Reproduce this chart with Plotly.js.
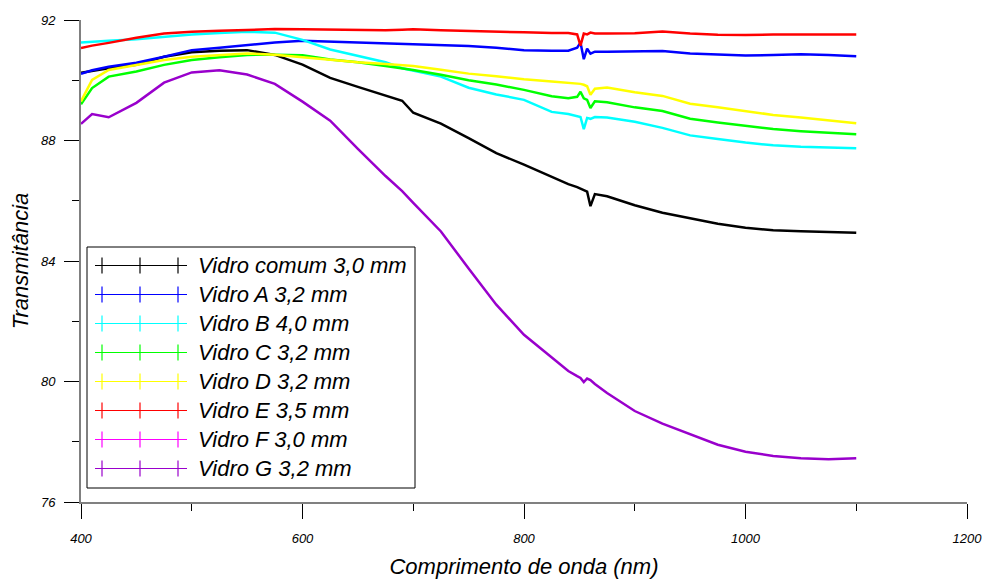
<!DOCTYPE html>
<html>
<head>
<meta charset="utf-8">
<script src="https://cdn.plot.ly/plotly-3.0.1.min.js"></script>
<style>html,body{margin:0;padding:0;background:#fff;}#chart{width:984px;height:579px;}</style>
</head>
<body>
<div id="chart"></div>
<script>
// Wavelength grid (nm)
const wavelength = [400,410,425,450,475,500,525,550,575,600,625,650,675,690,700,725,750,775,800,825,840,848,851,854,857,860,864,875,900,925,950,975,1000,1025,1050,1075,1100];

// Transmittance (%) per glass
const vidroComum = [90.25,90.32,90.40,90.51,90.78,90.93,90.98,91.00,90.84,90.52,90.08,89.78,89.50,89.32,88.92,88.56,88.08,87.58,87.20,86.80,86.55,86.45,86.40,86.35,86.30,85.82,86.22,86.15,85.85,85.60,85.42,85.24,85.10,85.02,84.99,84.96,84.94];
const vidroA = [90.21,90.33,90.45,90.58,90.78,91.00,91.08,91.17,91.25,91.31,91.28,91.25,91.23,91.21,91.19,91.18,91.14,91.08,91.00,90.98,90.98,91.08,91.25,90.70,91.05,90.88,90.95,90.95,90.95,90.97,90.89,90.86,90.82,90.84,90.86,90.84,90.80];
const vidroB = [91.25,91.28,91.31,91.36,91.45,91.52,91.57,91.61,91.58,91.34,91.02,90.80,90.60,90.40,90.32,90.12,89.75,89.53,89.35,88.95,88.88,88.82,88.78,88.38,88.75,88.72,88.78,88.76,88.62,88.42,88.17,88.05,87.93,87.84,87.79,87.77,87.74];
const vidroC = [89.20,89.74,90.12,90.29,90.51,90.67,90.76,90.84,90.85,90.83,90.69,90.60,90.47,90.40,90.34,90.18,90.00,89.86,89.68,89.47,89.40,89.45,89.62,89.40,89.35,89.08,89.30,89.27,89.10,88.98,88.72,88.60,88.48,88.38,88.31,88.26,88.21];
const vidroD = [89.30,90.01,90.34,90.51,90.67,90.78,90.84,90.89,90.85,90.76,90.68,90.60,90.54,90.51,90.47,90.35,90.22,90.13,90.03,89.96,89.92,89.90,89.88,89.85,89.80,89.52,89.72,89.76,89.60,89.48,89.22,89.10,88.97,88.85,88.76,88.67,88.57];
const vidroE = [91.07,91.15,91.24,91.41,91.55,91.61,91.64,91.67,91.70,91.69,91.68,91.67,91.66,91.68,91.69,91.66,91.63,91.62,91.59,91.57,91.57,91.52,91.15,91.55,91.52,91.58,91.55,91.55,91.56,91.62,91.55,91.51,91.50,91.52,91.53,91.52,91.52];
const vidroF = [];
const vidroG = [88.55,88.88,88.77,89.25,89.92,90.26,90.33,90.19,89.88,89.29,88.66,87.72,86.82,86.32,85.93,84.98,83.75,82.55,81.55,80.80,80.35,80.18,80.12,79.98,80.10,80.05,79.92,79.62,79.02,78.60,78.25,77.90,77.67,77.53,77.45,77.42,77.45];

const seriesNames = ["Vidro comum 3,0 mm","Vidro A 3,2 mm","Vidro B 4,0 mm","Vidro C 3,2 mm","Vidro D 3,2 mm","Vidro E 3,5 mm","Vidro F 3,0 mm","Vidro G 3,2 mm"];
const seriesValues = [vidroComum, vidroA, vidroB, vidroC, vidroD, vidroE, vidroF, vidroG];
const seriesColors = ["#000000","#0000ff","#00ffff","#00ff00","#ffff00","#ff0000","#ff00ff","#9900cc"];

const xTickVals = [400,600,800,1000,1200];
const yTickVals = [76,80,84,88,92];

const FONT = "Liberation Sans, Arial, sans-serif";

const traces = seriesValues.map((vals, i) => ({
  type: "scatter",
  mode: "lines",
  x: wavelength.slice(0, vals.length),
  y: vals,
  name: seriesNames[i],
  line: {color: seriesColors[i], width: 2.5},
  showlegend: false,
  hoverinfo: "skip"
}));

// Custom legend (pixel layout -> paper coords)
const L = 81, R = 967, T = 20, B = 502;
const px = v => (v - L) / (R - L);
const py = v => (B - v) / (B - T);
const shapes = [];
const annotations = [];
shapes.push({type:"rect", xref:"paper", yref:"paper", x0:px(87), x1:px(415), y0:py(488), y1:py(247),
  line:{color:"#000", width:1}, fillcolor:"#fff", layer:"above"});
seriesNames.forEach((nm, i) => {
  const yc = 265.5 + i * 29;
  shapes.push({type:"line", xref:"paper", yref:"paper", x0:px(95), x1:px(187), y0:py(yc), y1:py(yc),
    line:{color:seriesColors[i], width:1.2}, layer:"above"});
  [102,140,178].forEach(cx => {
    shapes.push({type:"line", xref:"paper", yref:"paper", x0:px(cx), x1:px(cx), y0:py(yc-8), y1:py(yc+8),
      line:{color:seriesColors[i], width:1.2}, layer:"above"});
  });
  annotations.push({xref:"paper", yref:"paper", x:px(196), y:py(yc), xanchor:"left", yanchor:"middle",
    text:"<i>"+nm+"</i>", showarrow:false, font:{family:FONT, size:22, color:"#000"}});
});

const axisCommon = {
  showline:true, linecolor:"#808080", linewidth:2,
  ticks:"outside", ticklen:15, tickwidth:1, tickcolor:"#000",
  showgrid:false, zeroline:false,
  tickfont:{family:FONT, size:13, color:"#000", style:"italic"}
};

const layout = {
  width:984, height:579,
  margin:{l:L, r:984-R, t:T, b:579-B},
  paper_bgcolor:"#fff", plot_bgcolor:"#fff",
  showlegend:false,
  xaxis: Object.assign({}, axisCommon, {
    range:[400,1200], tickvals:xTickVals, ticktext:xTickVals.map(String),
    ticklabelstandoff:8,
    minor:{dtick:100, tick0:400, ticks:"outside", ticklen:7, tickcolor:"#000", tickwidth:1, showgrid:false},
    title:{text:"<i>Comprimento de onda (nm)</i>", font:{family:FONT, size:22, color:"#000"}, standoff:14}
  }),
  yaxis: Object.assign({}, axisCommon, {
    range:[76,92], tickvals:yTickVals, ticktext:yTickVals.map(String),
    ticklabelstandoff:6,
    minor:{dtick:2, tick0:76, ticks:"outside", ticklen:7, tickcolor:"#000", tickwidth:1, showgrid:false},
    title:{text:"<i>Transmitância</i>", font:{family:FONT, size:22, color:"#000"}, standoff:6}
  }),
  shapes: shapes,
  annotations: annotations
};

Plotly.newPlot("chart", traces, layout, {displayModeBar:false, staticPlot:true});
</script>
</body>
</html>
